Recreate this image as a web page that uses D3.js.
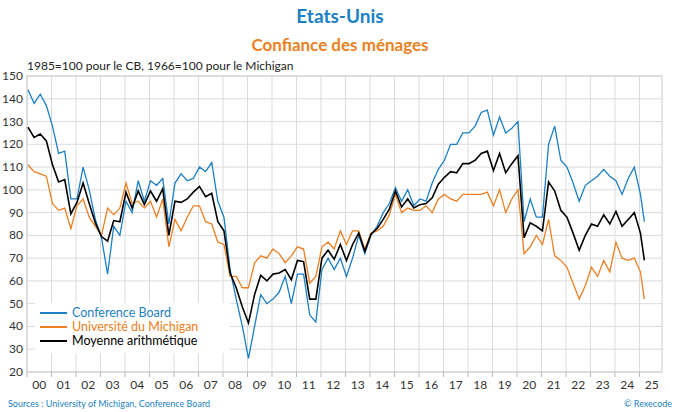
<!DOCTYPE html>
<html><head><meta charset="utf-8">
<script src="https://cdn.jsdelivr.net/npm/d3@7"></script>
<style>body{margin:0;background:#fff;font-family:Lato,"Open Sans",sans-serif}</style>
</head><body><svg width="680" height="412"></svg>
<script>
// quarterly readings, 2000Q1 .. 2025Q1, plus the latest month
var confBoard = [144,138,142,137, 128,116,117,96, 96,110,100,87, 79,63,84,80, 95,90,104,95,
  104,102,105,85, 103,107,104,105, 110,108,112,95, 88,65,52,40, 26,40,54,50, 52,55,62,50,
  63,63,45,42, 65,70,65,70, 62,70,80,72, 80,84,90,94, 101,95,100,93, 96,95,103,109,
  113,120,120,125, 125,128,134,135, 124,132,125,127, 130,86,96,88, 88,120,128,113,
  110,103,95,102, 104,106,109,106, 104,98,105,110, 98,86];
var michigan = [111,108,107,106, 94,91,92,83, 93,96,88,84, 80,92,89,92, 103,94,95,92,
  95,88,96,75, 87,82,88,93, 93,86,85,77, 76,62,62,57, 57,68,71,70, 74,72,68,71,
  75,74,59,62, 75,77,74,82, 76,82,82,74, 81,82,84,89, 98,90,92,91, 91,93,90,96,
  98,96,95,98, 98,98,98,99, 93,100,90,96, 100,72,75,80, 76,87,71,69,
  66,59,52,58, 66,62,69,64, 77,70,69,70, 64,52];
var moyenne = [127.5,123,124.5,121.5, 111,103.5,104.5,89.5, 94.5,103,94,85.5, 79.5,77.5,86.5,86,
  99,92,99.5,93.5, 99.5,95,100.5,80, 95,94.5,96,99, 101.5,97,98.5,86, 82,63.5,57,48.5,
  41.5,54,62.5,60, 63,63.5,65,60.5, 69,68.5,52,52, 70,73.5,69.5,76, 69,76,81,73,
  80.5,83,87,91.5, 99.5,92.5,96,92, 93.5,94,96.5,102.5, 105.5,108,107.5,111.5,
  111.5,113,116,117, 108.5,116,107.5,111.5, 115,79,85.5,84, 82,103.5,99.5,91,
  88,81,73.5,80, 85,84,89,85, 90.5,84,87,90, 81,69];
var dates = confBoard.map(function(d, i){ return i < 101 ? 2000 + i/4 + 0.04 : 2025.2; });
var yearLabels = d3.range(2000, 2026);
var yTicks = d3.range(20, 151, 10);
var series = [
  {name: 'Conference Board', values: confBoard, color: '#1b7fc4'},
  {name: 'Université du Michigan', values: michigan, color: '#ec7f22'},
  {name: 'Moyenne arithmétique', values: moyenne, color: '#000'}
];

var svg = d3.select('svg');
var m = {l: 27, r: 662, t: 76, b: 372};
var x = d3.scaleLinear().domain([2000, 2025.92]).range([m.l, m.r]);
var y = d3.scaleLinear().domain([20, 150]).range([m.b, m.t]);

svg.append('text').attr('x', 340).attr('y', 23).attr('text-anchor', 'middle')
  .attr('fill', '#1b7fc4').attr('font-size', 19).attr('font-weight', 'bold').text('Etats-Unis');
svg.append('text').attr('x', 340).attr('y', 51).attr('text-anchor', 'middle')
  .attr('fill', '#ec7f22').attr('font-size', 17).attr('font-weight', 'bold').text('Confiance des ménages');
svg.append('text').attr('x', 27).attr('y', 70).attr('fill', '#222').attr('font-size', 12)
  .text('1985=100 pour le CB, 1966=100 pour le Michigan');

var grid = svg.append('g').attr('stroke', '#dcdcdc');
grid.selectAll('.h').data(yTicks).enter().append('line')
  .attr('x1', m.l).attr('x2', m.r).attr('y1', y).attr('y2', y);
grid.selectAll('.v').data(yearLabels.concat([2025])).enter().append('line')
  .attr('x1', x).attr('x2', x).attr('y1', m.t).attr('y2', m.b);
svg.append('rect').attr('x', m.l).attr('y', m.t).attr('width', m.r - m.l).attr('height', m.b - m.t)
  .attr('fill', 'none').attr('stroke', '#ccc');

svg.append('g').selectAll('text').data(yTicks).enter().append('text')
  .attr('x', 23).attr('y', function(d){ return y(d) + 4; }).attr('text-anchor', 'end')
  .attr('font-size', 12).attr('fill', '#333').text(function(d){ return d; });
svg.append('g').selectAll('line').data(yearLabels.concat([2025])).enter().append('line')
  .attr('x1', x).attr('x2', x).attr('y1', m.b).attr('y2', m.b + 5).attr('stroke', '#bbb');
svg.append('g').selectAll('text').data(yearLabels).enter().append('text')
  .attr('x', function(d){ return x(d + 0.5); }).attr('y', 389).attr('text-anchor', 'middle')
  .attr('font-size', 12).attr('fill', '#333').text(function(d){ return String(d % 100).padStart(2, '0'); });

var line = d3.line().x(function(d){ return x(d[0]); }).y(function(d){ return y(d[1]); });
series.forEach(function(s){
  svg.append('path').datum(s.values.map(function(v, i){ return [dates[i], v]; }))
    .attr('d', line).attr('fill', 'none').attr('stroke', s.color).attr('stroke-width', s.color == '#000' ? 1.6 : 1.3);
});

var lg = svg.append('g');
lg.append('rect').attr('x', 35).attr('y', 303).attr('width', 195).attr('height', 50).attr('fill', '#fff');
series.forEach(function(s, i){
  var yy = 313 + i * 14;
  lg.append('line').attr('x1', 40).attr('x2', 67).attr('y1', yy).attr('y2', yy).attr('stroke', s.color).attr('stroke-width', 2);
  lg.append('text').attr('x', 72).attr('y', yy + 4).attr('font-size', 12.5).attr('fill', s.color).text(s.name);
});

svg.append('text').attr('x', 8).attr('y', 407).attr('font-size', 9).attr('fill', '#1b7fc4')
  .text('Sources : University of Michigan, Conference Board');
svg.append('text').attr('x', 672).attr('y', 407).attr('text-anchor', 'end').attr('font-size', 9).attr('fill', '#1b7fc4')
  .text('© Rexecode');
</script></body></html>
